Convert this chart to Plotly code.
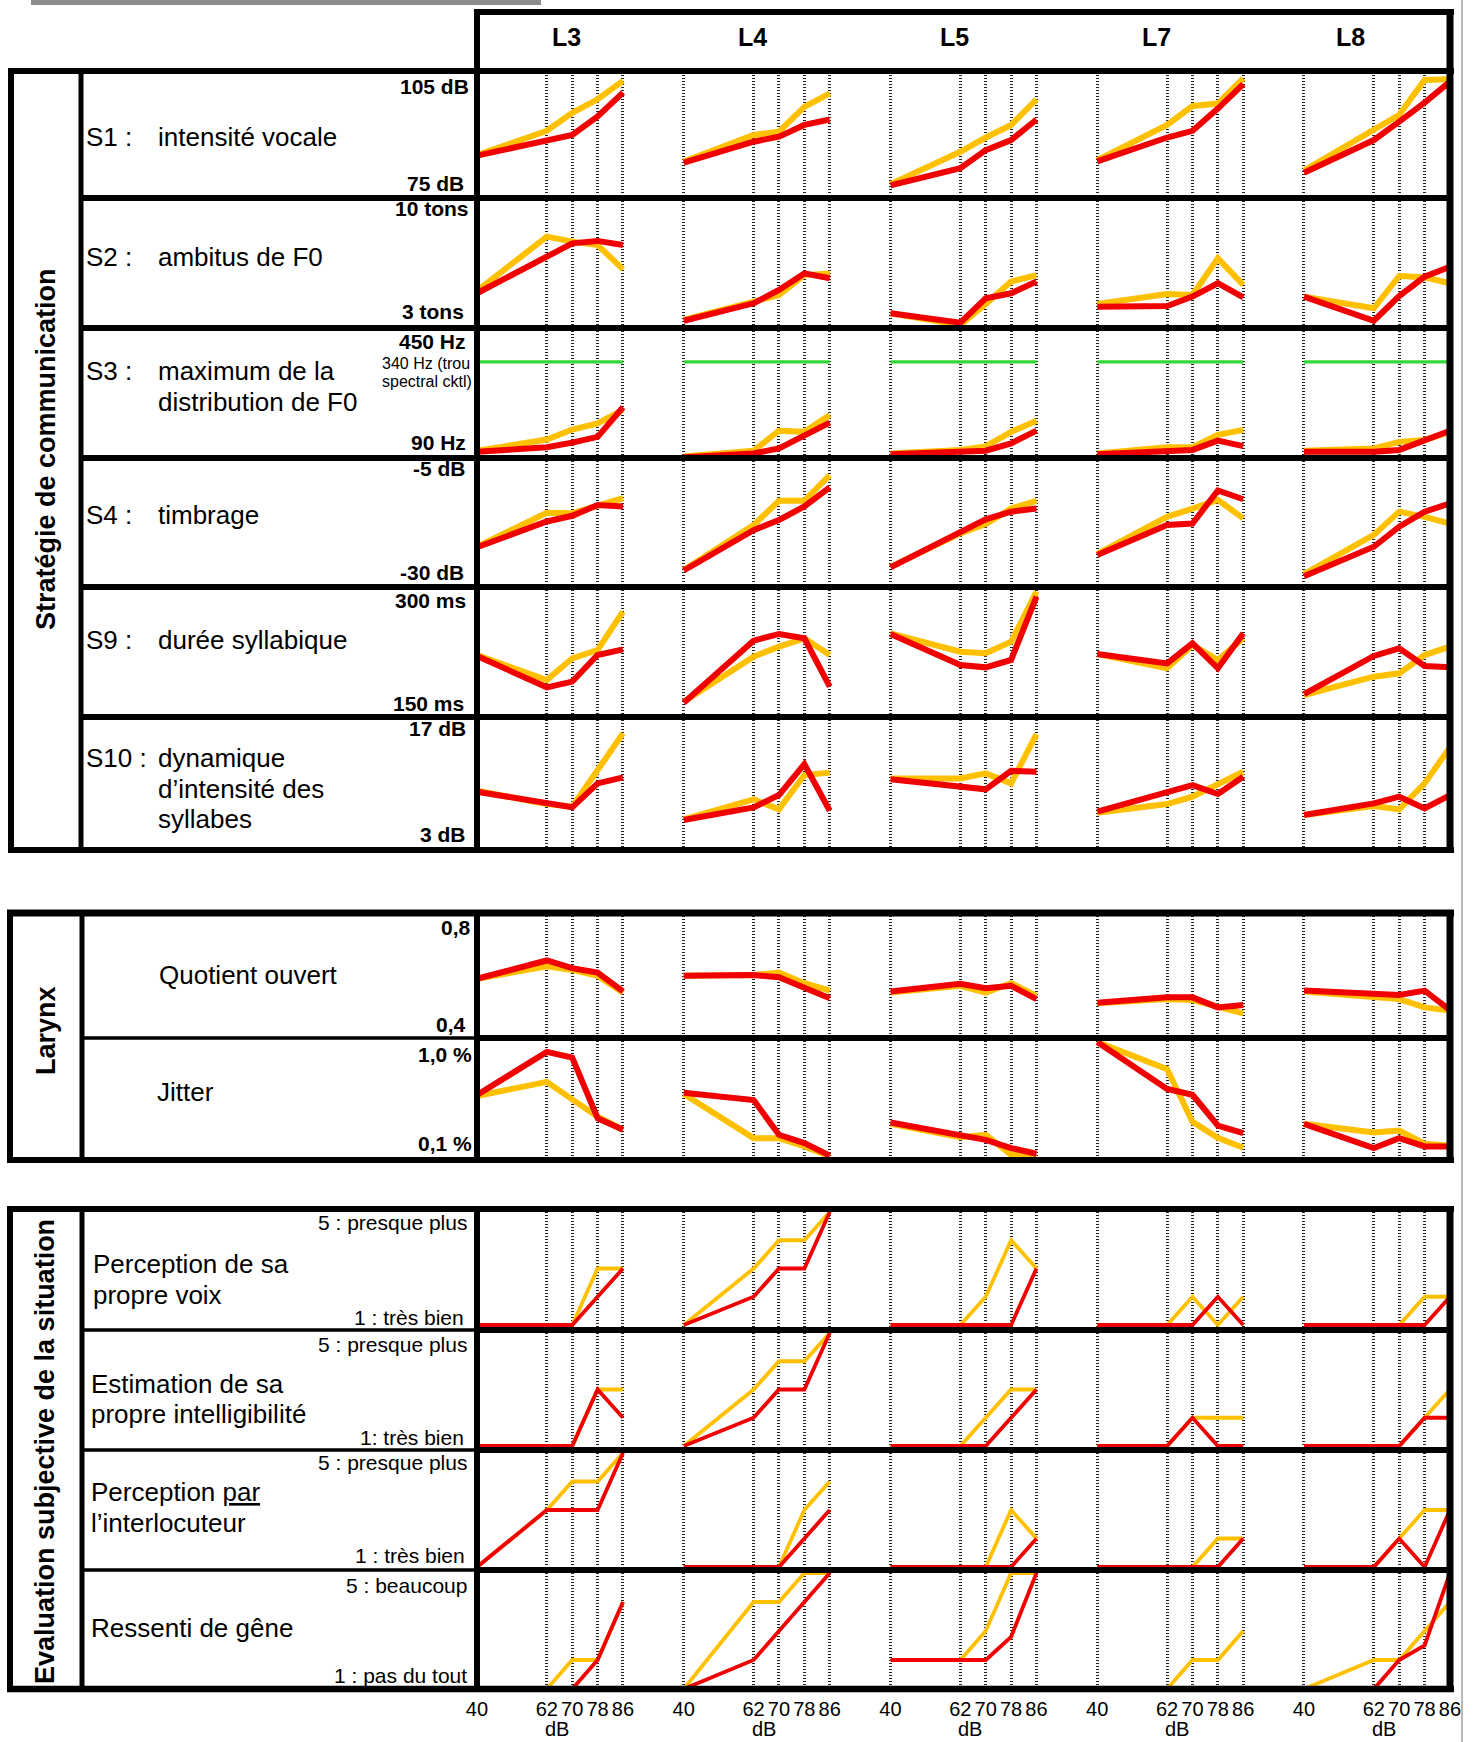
import plotly.graph_objects as go

W, H = 1478, 1742
FONT = "Liberation Sans, Arial, Helvetica, sans-serif"

# ---------------- data ----------------
DB_LEVELS = [40, 62, 70, 78, 86]
LARYNGES = ["L3", "L4", "L5", "L7", "L8"]
GREEN_REF_HZ = 340

# S1 : intensité vocale (dB)
S1_YELLOW = [[85.2, 91.0, 95.3, 98.5, 102.9], [83.7, 90.0, 90.8, 96.7, 99.9], [78.3, 86.0, 89.4, 92.4, 98.5],
             [84.0, 92.4, 96.9, 97.5, 103.5], [81.5, 91.2, 94.8, 103.1, 103.3]]
S1_RED = [[85.1, 88.7, 90.0, 94.4, 100.1], [83.4, 88.4, 89.6, 92.4, 93.7], [78.0, 82.1, 86.4, 88.8, 93.7],
          [83.7, 89.4, 91.0, 96.3, 102.1], [81.0, 88.8, 93.2, 97.7, 102.7]]
# S2 : ambitus de F0 (tons)
S2_YELLOW = [[5.0, 7.92, 7.65, 7.47, 6.16], [3.43, 4.42, 4.78, 5.85, 5.94], [3.79, 3.16, 4.29, 5.50, 5.85],
             [4.29, 4.83, 4.78, 6.75, 5.32], [4.69, 4.06, 5.80, 5.73, 5.41]]
S2_RED = [[4.87, 6.88, 7.56, 7.69, 7.47], [3.39, 4.33, 5.05, 5.94, 5.68], [3.79, 3.29, 4.60, 4.87, 5.50],
          [4.15, 4.18, 4.69, 5.41, 4.65], [4.69, 3.39, 4.72, 5.76, 6.30]]
# S3 : maximum de la distribution de F0 (Hz)
S3_YELLOW = [[109, 138, 164, 180, 215], [94, 109, 161, 158, 202], [102, 111, 120, 158, 187],
             [102, 118, 118, 150, 163], [109, 115, 132, 137, 158]]
S3_RED = [[106, 118, 130, 145, 222], [92, 102, 115, 150, 182], [100, 106, 109, 128, 161],
          [100, 109, 111, 135, 121], [106, 106, 111, 135, 161]]
# S4 : timbrage (dB)
S4_YELLOW = [[-22.2, -15.6, -15.7, -14.1, -12.8], [-26.7, -18.0, -13.3, -13.3, -8.3], [-26.1, -19.6, -17.8, -14.8, -13.3],
             [-23.6, -16.4, -14.8, -13.1, -16.7], [-27.5, -19.9, -15.4, -16.4, -17.7]]
S4_RED = [[-22.3, -17.3, -16.2, -14.1, -14.4], [-26.8, -19.0, -17.0, -14.4, -10.7], [-26.2, -19.6, -16.9, -15.4, -14.8],
          [-23.8, -18.0, -17.7, -11.3, -13.0], [-27.9, -22.2, -18.3, -15.4, -13.8]]
# S9 : durée syllabique (ms)
S9_YELLOW = [[221.5, 192.7, 217.7, 227.3, 271.5], [167.7, 219.6, 231.2, 240.8, 221.5], [246.5, 225.4, 223.5, 236.9, 294.6],
             [222.7, 206.2, 233.1, 215.8, 240.8], [175.4, 196.5, 200.4, 221.5, 231.2]]
S9_RED = [[220.4, 184.2, 190.8, 221.5, 228.1], [166.5, 238.1, 245.8, 240.8, 185.0], [245.8, 210.0, 207.3, 215.8, 288.8],
          [222.7, 211.9, 235.0, 206.2, 246.5], [176.5, 220.4, 229.2, 208.8, 207.3]]
# S10 : dynamique d'intensité des syllabes (dB)
S10_YELLOW = [[9.18, 7.77, 7.49, 11.37, 15.26], [6.14, 8.27, 7.2, 10.84, 11.1], [10.49, 10.49, 11.02, 9.96, 15.19],
              [6.85, 7.77, 8.55, 9.96, 11.2], [6.6, 7.56, 7.2, 9.96, 13.8]]
S10_RED = [[9.08, 7.84, 7.42, 9.96, 10.6], [6.07, 7.42, 8.72, 12.0, 7.06], [10.39, 9.61, 9.33, 11.3, 11.2],
           [6.96, 9.08, 9.78, 8.83, 10.67], [6.6, 7.84, 8.55, 7.31, 8.72]]
# Larynx : quotient ouvert
QO_YELLOW = [[0.594, 0.636, 0.624, 0.604, 0.547], [0.604, 0.607, 0.615, 0.579, 0.554], [0.547, 0.570, 0.547, 0.579, 0.536],
             [0.511, 0.525, 0.522, 0.502, 0.477], [0.551, 0.531, 0.525, 0.497, 0.486]]
QO_RED = [[0.594, 0.656, 0.630, 0.615, 0.551], [0.604, 0.607, 0.599, 0.565, 0.528], [0.551, 0.577, 0.562, 0.570, 0.525],
          [0.513, 0.531, 0.531, 0.497, 0.505], [0.554, 0.545, 0.539, 0.554, 0.488]]
# Larynx : jitter (%)
JIT_YELLOW = [[0.581, 0.691, 0.555, 0.421, 0.319], [0.596, 0.254, 0.254, 0.19, 0.113], [0.365, 0.262, 0.28, 0.126, 0.126],
              [1.0, 0.789, 0.380, 0.257, 0.180], [0.365, 0.298, 0.313, 0.211, 0.195]]
JIT_RED = [[0.589, 0.923, 0.879, 0.409, 0.319], [0.607, 0.55, 0.28, 0.216, 0.118], [0.375, 0.28, 0.241, 0.177, 0.133],
           [1.0, 0.635, 0.591, 0.352, 0.293], [0.365, 0.177, 0.254, 0.19, 0.19]]
# Evaluation subjective (1..5)
PV_YELLOW = [[1, 1, 1, 3, 3], [1, 3, 4, 4, 5], [1, 1, 2, 4, 3], [1, 1, 2, 1, 2], [1, 1, 1, 2, 2]]
PV_RED = [[1, 1, 1, 2, 3], [1, 2, 3, 3, 5], [1, 1, 1, 1, 3], [1, 1, 1, 2, 1], [1, 1, 1, 1, 2]]
EI_YELLOW = [[1, 1, 1, 3, 3], [1, 3, 4, 4, 5], [1, 1, 2, 3, 3], [1, 1, 2, 2, 2], [1, 1, 1, 2, 3]]
EI_RED = [[1, 1, 1, 3, 2], [1, 2, 3, 3, 5], [1, 1, 1, 2, 3], [1, 1, 2, 1, 1], [1, 1, 1, 2, 2]]
PI_YELLOW = [[1, 3, 4, 4, 5], [1, 1, 1, 3, 4], [1, 1, 1, 3, 2], [1, 1, 1, 2, 2], [1, 1, 2, 3, 3]]
PI_RED = [[1, 3, 3, 3, 5], [1, 1, 1, 2, 3], [1, 1, 1, 1, 2], [1, 1, 1, 1, 2], [1, 1, 2, 1, 3]]
RG_YELLOW = [[1, 1, 2, 2, 4], [1, 4, 4, 5, 5], [2, 2, 3, 5, 5], [1, 1, 2, 2, 3], [1, 2, 2, 3, 4]]
RG_RED = [[1, 1, 1, 2, 4], [1, 2, 3, 4, 5], [2, 2, 2, 2.8, 5], [1, 1, 1, 1, 1], [1, 1, 2, 2.5, 5]]

ROW_SERIES = [
    (S1_YELLOW, S1_RED), (S2_YELLOW, S2_RED), (S3_YELLOW, S3_RED), (S4_YELLOW, S4_RED),
    (S9_YELLOW, S9_RED), (S10_YELLOW, S10_RED), (QO_YELLOW, QO_RED), (JIT_YELLOW, JIT_RED),
    (PV_YELLOW, PV_RED), (EI_YELLOW, EI_RED), (PI_YELLOW, PI_RED), (RG_YELLOW, RG_RED),
]

# ---------------- geometry (pixels) ----------------
# (domain top, domain bottom, px of vmax, px of vmin, vmin, vmax, line width)
ROW_GEOM = [
    (72, 198, 72, 198, 75, 105, 6),
    (198, 328, 198, 328, 3, 10, 6),
    (328, 458, 328, 458, 90, 428, 6),
    (458, 587, 458, 587, -30, -5, 6),
    (587, 717, 587, 717, 150, 300, 6),
    (717, 850, 717, 849, 3, 17, 6),
    (913, 1038, 918, 1036, 0.4, 0.8, 6),
    (1038, 1160, 1042, 1158, 0.1, 1.0, 6),
    (1209, 1330, 1212, 1325, 1, 5, 3.8),
    (1330, 1450, 1333, 1446, 1, 5, 3.8),
    (1450, 1570, 1453, 1567, 1, 5, 3.8),
    (1570, 1689, 1573, 1689, 1, 5, 3.8),
]
X40_PX = [477, 683.75, 890.5, 1097.25, 1304]
SPAN_PX = 146.0
X_PAD_DB = 1.5
PX_PER_DB = SPAN_PX / (DB_LEVELS[-1] - DB_LEVELS[0])

YELLOW = "#FFC000"
RED = "#F00000"
GREEN = "#33D633"

fig = go.Figure()
layout = {}
n_rows = len(ROW_SERIES)

for r, (yel, red) in enumerate(ROW_SERIES):
    dt, db, pt, pb, vmin, vmax, lw = ROW_GEOM[r]
    k = (vmax - vmin) / (pb - pt)
    rmax = vmax + (pt - dt) * k
    rmin = vmin - (db - pb) * k
    for c in range(len(LARYNGES)):
        idx = r * 5 + c + 1
        xn = "x" if idx == 1 else f"x{idx}"
        yn = "y" if idx == 1 else f"y{idx}"
        xk = "xaxis" if idx == 1 else f"xaxis{idx}"
        yk = "yaxis" if idx == 1 else f"yaxis{idx}"
        if r == 2:
            fig.add_trace(go.Scatter(x=[DB_LEVELS[0], DB_LEVELS[-1]], y=[GREEN_REF_HZ, GREEN_REF_HZ],
                                     mode="lines", line=dict(color=GREEN, width=3.2),
                                     xaxis=xn, yaxis=yn, hoverinfo="skip"))
        fig.add_trace(go.Scatter(x=DB_LEVELS, y=yel[c], mode="lines",
                                 line=dict(color=YELLOW, width=lw), xaxis=xn, yaxis=yn))
        fig.add_trace(go.Scatter(x=DB_LEVELS, y=red[c], mode="lines",
                                 line=dict(color=RED, width=lw), xaxis=xn, yaxis=yn))
        x0 = X40_PX[c] - X_PAD_DB * PX_PER_DB
        x1 = X40_PX[c] + SPAN_PX + X_PAD_DB * PX_PER_DB
        last = (r == n_rows - 1)
        layout[xk] = dict(
            domain=[x0 / W, x1 / W], range=[DB_LEVELS[0] - X_PAD_DB, DB_LEVELS[-1] + X_PAD_DB],
            tickvals=DB_LEVELS, ticktext=[str(v) for v in DB_LEVELS], tickangle=0,
            showgrid=True, gridcolor="#222222", gridwidth=2.6, griddash="1.4px,1.6px",
            zeroline=False, showline=False, showticklabels=last, automargin=False,
            ticks="outside" if last else "", ticklen=2, tickcolor="rgba(0,0,0,0)",
            tickfont=dict(size=20, color="black", family=FONT),
            anchor=yn, fixedrange=True)
        layout[yk] = dict(domain=[1 - db / H, 1 - dt / H], range=[rmin, rmax], automargin=False,
                          showgrid=False, zeroline=False, showticklabels=False,
                          showline=False, anchor=xn, fixedrange=True)

# ---------------- frame shapes ----------------
shapes = []


def hline(y, x0, x1, w, color="black"):
    shapes.append(dict(type="line", xref="paper", yref="paper", x0=x0 / W, x1=x1 / W,
                       y0=1 - y / H, y1=1 - y / H, line=dict(color=color, width=w), layer="above"))


def vline(x, y0, y1, w, color="black"):
    shapes.append(dict(type="line", xref="paper", yref="paper", x0=x / W, x1=x / W,
                       y0=1 - y0 / H, y1=1 - y1 / H, line=dict(color=color, width=w), layer="above"))


# top gray bar and right thin line
shapes.append(dict(type="rect", xref="paper", yref="paper", x0=31 / W, x1=541 / W, y0=1 - 5 / H, y1=1,
                   fillcolor="#8c8c8c", line=dict(width=0), layer="above"))
vline(1462, 0, H, 1.5, "#a0a0a0")

# header box
hline(12, 474, 1454, 6)
vline(477, 9, 74, 6)
vline(1450, 9, 74, 7)

# strategy box
hline(71, 8, 1454, 6)
hline(850, 8, 1454, 6)
vline(11, 68, 853, 6)
vline(81, 71, 850, 5)
vline(477, 71, 850, 6)
vline(1450, 71, 853, 7)
for yy in [198, 328, 458, 587, 717]:
    hline(yy, 81, 1450, 6)

# larynx box
hline(913, 7, 1454, 7)
hline(1160, 7, 1454, 6)
vline(10, 910, 1163, 6)
vline(82, 913, 1160, 5)
vline(477, 913, 1160, 6)
vline(1450, 910, 1163, 7)
hline(1038, 82, 477, 3.5)
hline(1038, 477, 1450, 6)

# subjective box
hline(1209, 7, 1454, 6)
hline(1689, 7, 1454, 6.5)
vline(10, 1206, 1692, 6)
vline(82, 1209, 1689, 5)
vline(477, 1209, 1689, 6)
vline(1450, 1206, 1692, 7)
for yy in [1330, 1450, 1570]:
    hline(yy, 82, 477, 3.5)
    hline(yy, 477, 1450, 6)

# ---------------- texts ----------------
ann = []


def txt(x, y, s, size, anchor="left", bold=False, angle=0):
    ann.append(dict(x=x / W, y=1 - y / H, xref="paper", yref="paper",
                    text=("<b>" + s + "</b>") if bold else s, showarrow=False,
                    xanchor=anchor, yanchor="middle", textangle=angle,
                    font=dict(size=size, family=FONT, color="black")))


HEADER_X = [566, 752, 954, 1156, 1350]
for name, hx in zip(LARYNGES, HEADER_X):
    txt(hx, 37, name, 25, "center", True)

txt(46, 449, "Stratégie de communication", 27, "center", True, -90)
txt(46, 1031, "Larynx", 27, "center", True, -90)
txt(45, 1452, "Evaluation subjective de la situation", 27, "center", True, -90)

# strategy row labels
S_NUM = [("S1 :", 137), ("S2 :", 257), ("S3 :", 371), ("S4 :", 515), ("S9 :", 640), ("S10 :", 758)]
for s, yy in S_NUM:
    txt(84, yy, s, 26)
S_TEXT = [("intensité vocale", 137), ("ambitus de F0", 257), ("maximum de la", 371),
          ("distribution de F0", 402), ("timbrage", 515), ("durée syllabique", 640),
          ("dynamique", 758), ("d’intensité des", 789), ("syllabes", 819)]
for s, yy in S_TEXT:
    txt(156, yy, s, 26)

# strategy value labels
S_VAL = [("105 dB", 86, 471), ("75 dB", 183, 466), ("10 tons", 208, 471), ("3 tons", 312, 466),
         ("450 Hz", 341, 468), ("90 Hz", 442, 468), ("-5 dB", 469, 468), ("-30 dB", 572, 466),
         ("300 ms", 600, 468), ("150 ms", 704, 466), ("17 dB", 729, 468), ("3 dB", 834, 468)]
for s, yy, xx in S_VAL:
    txt(xx, yy, s, 21, "right", True)
txt(472, 363, "340 Hz (trou", 16, "right")
txt(474, 381, "spectral cktl)", 16, "right")

# larynx labels
txt(157, 975, "Quotient ouvert", 26)
txt(155, 1092, "Jitter", 26)
for s, yy, xx in [("0,8", 927, 473), ("0,4", 1024, 468), ("1,0 %", 1054, 474), ("0,1 %", 1143, 474)]:
    txt(xx, yy, s, 21, "right", True)

# subjective labels
for s, yy, xx in [("Perception de sa", 1264, 91), ("propre voix", 1295, 91),
                  ("Estimation de sa", 1384, 89), ("propre intelligibilité", 1414, 89),
                  ("Perception <u>par</u>", 1492, 89), ("l’interlocuteur", 1523, 89),
                  ("Ressenti de gêne", 1628, 89)]:
    txt(xx, yy, s, 26)
for s, yy, xx in [("5 : presque plus", 1222, 469), ("1 : très bien", 1317, 466),
                  ("5 : presque plus", 1344, 469), ("1: très bien", 1437, 466),
                  ("5 : presque plus", 1462, 469), ("1 : très bien", 1555, 467),
                  ("5 : beaucoup", 1585, 469), ("1 : pas du tout", 1675, 469)]:
    txt(xx, yy, s, 21, "right")

# "dB" unit under each bottom axis
for c in range(len(LARYNGES)):
    idx = (n_rows - 1) * 5 + c + 1
    ann.append(dict(x=65.2, y=1 - 1729 / H, xref=f"x{idx}", yref="paper", text="dB", showarrow=False,
                    xanchor="center", yanchor="middle", font=dict(size=20, family=FONT, color="black")))

fig.update_layout(**layout)
fig.update_layout(width=W, height=H, margin=dict(l=0, r=0, t=0, b=0, pad=0, autoexpand=False), autosize=False,
                  paper_bgcolor="white", plot_bgcolor="rgba(0,0,0,0)", showlegend=False,
                  shapes=shapes, annotations=ann, hovermode=False)

fig.write_html("out.html", config=dict(responsive=False, displayModeBar=False),
               post_script="document.body.style.margin='0';document.body.style.overflow='hidden';")
